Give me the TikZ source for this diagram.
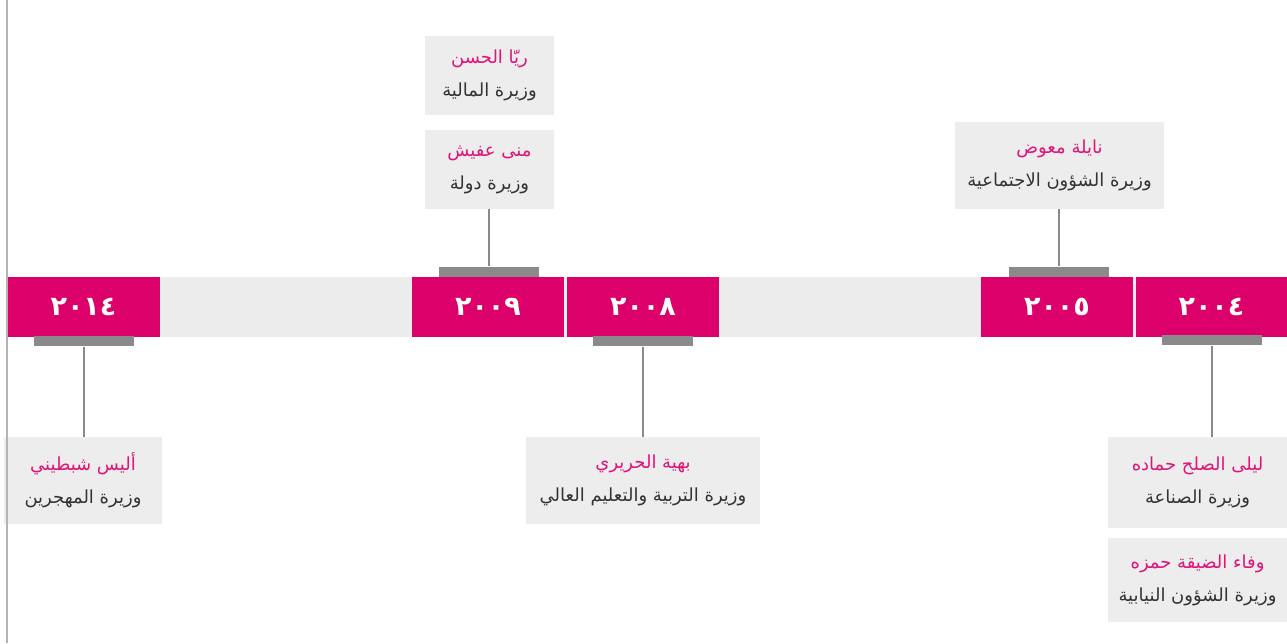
\documentclass[tikz,border=0pt]{standalone}
\usepackage{fontspec}
\newfontfamily\arabicfont[Script=Arabic]{DejaVu Sans}
\TeXXeTstate=1
\usetikzlibrary{positioning}
\definecolor{yearpink}{RGB}{220,0,107}
\definecolor{namepink}{RGB}{224,20,120}
\definecolor{bandgray}{RGB}{236,236,236}
\definecolor{infogray}{RGB}{237,237,237}
\definecolor{tabgray}{RGB}{138,138,138}
\definecolor{textgray}{RGB}{51,51,51}
\definecolor{leftgray}{RGB}{180,180,180}

\begin{document}
\begin{tikzpicture}[x=1pt,y=-1pt,
    year node/.style={rectangle,fill=yearpink,text=white,minimum width=152pt,minimum height=60pt,inner sep=0pt,font=\arabicfont\bfseries\fontsize{27}{30}\selectfont},
    tab node/.style={rectangle,fill=tabgray,minimum width=100pt,minimum height=10pt,inner sep=0pt},
    info node/.style={rectangle,fill=infogray,text=textgray,align=center,inner sep=0pt,font=\arabicfont\fontsize{18}{33}\selectfont},
    stem/.style={draw=tabgray,line width=2pt}]
  \useasboundingbox (0,0) rectangle (1287,643);
  % band behind the years
  \fill[bandgray] (7,277) rectangle (1287,337);
  % years
  \node[year node] (y2014) at (83.5,307) {٢٠١٤};
  \node[year node] (y2009) at (488,307) {٢٠٠٩};
  \node[year node] (y2008) at (643,307) {٢٠٠٨};
  \node[year node] (y2005) at (1057,307) {٢٠٠٥};
  \node[year node,minimum width=151pt] (y2004) at (1211.5,307) {٢٠٠٤};
  % tabs
  \node[tab node,below=-1pt of y2014] (t2014) {};
  \node[tab node,above=0pt of y2009,xshift=1pt] (t2009) {};
  \node[tab node,below=-1pt of y2008] (t2008) {};
  \node[tab node,above=0pt of y2005,xshift=2pt] (t2005) {};
  \node[tab node,below=-2pt of y2004,xshift=0.5pt] (t2004) {};
  % ministers
  \node[info node,minimum width=129pt,minimum height=79pt] (rayya) at (489.5,75.5)
    {{\color{namepink}\beginR ريّا الحسن\endR}\\\beginR وزيرة المالية\endR};
  \node[info node,minimum width=129pt,minimum height=79pt] (mona) at (489.5,169.5)
    {{\color{namepink}\beginR منى عفيش\endR}\\\beginR وزيرة دولة\endR};
  \node[info node,minimum width=209pt,minimum height=87pt] (nayla) at (1059.5,165.5)
    {{\color{namepink}\beginR نايلة معوض\endR}\\\beginR وزيرة الشؤون الاجتماعية\endR};
  \node[info node,minimum width=158pt,minimum height=87pt] (alice) at (83,480.5)
    {{\color{namepink}\beginR أليس شبطيني\endR}\\\beginR وزيرة المهجرين\endR};
  \node[info node,minimum width=234pt,minimum height=87pt] (bahia) at (643,480.5)
    {{\color{namepink}\beginR بهية الحريري\endR}\\\beginR وزيرة التربية والتعليم العالي\endR};
  \node[info node,minimum width=179pt,minimum height=91pt] (layla) at (1197.5,482.5)
    {{\color{namepink}\beginR ليلى الصلح حماده\endR}\\\beginR وزيرة الصناعة\endR};
  \node[info node,minimum width=179pt,minimum height=84pt] (wafa) at (1197.5,580)
    {{\color{namepink}\beginR وفاء الضيقة حمزه\endR}\\\beginR وزيرة الشؤون النيابية\endR};
  % stems
  \draw[stem] (t2014.south) -- (t2014.south |- alice.north);
  \draw[stem] (t2009.north) -- (t2009.north |- mona.south);
  \draw[stem] (t2008.south) -- (t2008.south |- bahia.north);
  \draw[stem] (t2005.north) -- (t2005.north |- nayla.south);
  \draw[stem] (t2004.south) -- (t2004.south |- layla.north);
  % left rule
  \draw[leftgray,line width=1.5pt] (7,0) -- (7,643);
\end{tikzpicture}
\end{document}
